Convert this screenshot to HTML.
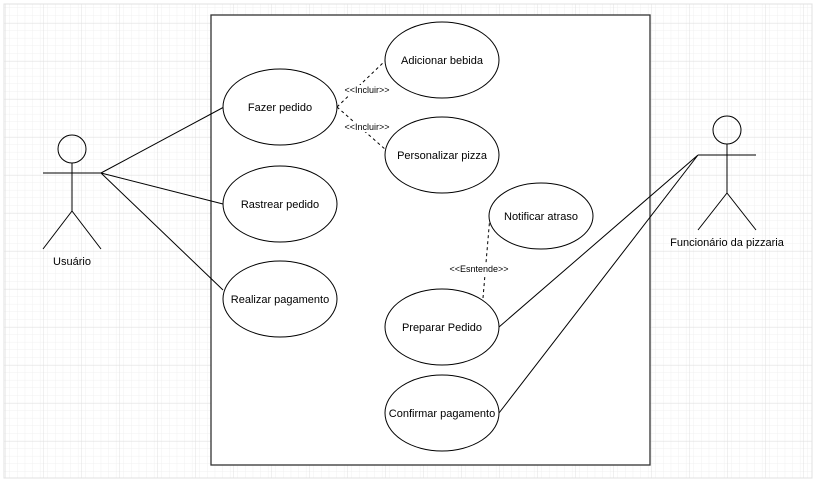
<!DOCTYPE html>
<html><head><meta charset="utf-8"><style>
body{margin:0;width:817px;height:480px;overflow:hidden;background:#fff}
</style></head><body>
<svg width="817" height="480" xmlns="http://www.w3.org/2000/svg" font-family="Liberation Sans, sans-serif">
<defs>
<pattern id="mi" x="5" y="-15" width="7.6" height="7.6" patternUnits="userSpaceOnUse"><path d="M7.6 0V7.6M0 7.6H7.6" stroke="#f0f0f0" stroke-width="1" fill="none"/></pattern>
<pattern id="ma" x="5" y="-15" width="38" height="38" patternUnits="userSpaceOnUse"><rect width="38" height="38" fill="url(#mi)"/><path d="M0 0V38M0 0H38" stroke="#e0e0e0" stroke-width="1" fill="none"/></pattern>
</defs>
<rect x="4" y="4" width="808" height="474" fill="url(#ma)" stroke="#e0e0e0"/>
<rect x="211" y="15" width="439" height="450" fill="#fff" stroke="#333" stroke-width="1.3"/>
<g stroke="#000" fill="none" stroke-width="1">
<circle cx="72" cy="149" r="14"/><path d="M72 163V211M43 173H101M72 211L43 249M72 211L101 249"/>
<circle cx="727" cy="130" r="14"/><path d="M727 144V193M698 155H756M727 193L698 230M727 193L756 230"/>
<path d="M101 173L224 107M101 173L223 204M101 173L223 290M698 155L499 327M698 155L499 413"/>
<path d="M337 107L386 60M337 107L386 150M483 298L490 216" stroke-dasharray="3,3"/>
<g fill="#fff">
<ellipse cx="280" cy="107" rx="57" ry="38"/><ellipse cx="280" cy="204" rx="57" ry="38"/><ellipse cx="280" cy="299" rx="57" ry="38"/>
<ellipse cx="442" cy="60" rx="57" ry="38"/><ellipse cx="442" cy="155" rx="57" ry="38"/><ellipse cx="541" cy="216" rx="52" ry="33"/>
<ellipse cx="442" cy="327" rx="57" ry="38"/><ellipse cx="442" cy="413" rx="57" ry="38"/>
</g></g>
<g font-size="11" text-anchor="middle" fill="#000">
<text x="280" y="111">Fazer pedido</text><text x="280" y="208">Rastrear pedido</text><text x="280" y="303">Realizar pagamento</text>
<text x="442" y="64">Adicionar bebida</text><text x="442" y="159">Personalizar pizza</text><text x="541" y="220">Notificar atraso</text>
<text x="442" y="331">Preparar Pedido</text><text x="442" y="417">Confirmar pagamento</text>
<text x="72" y="265">Usuário</text><text x="727" y="246">Funcionário da pizzaria</text>
</g>
<g font-size="9" text-anchor="middle" fill="#000">
<rect x="342" y="85" width="52" height="10" fill="#fff"/><text x="367" y="93">&lt;&lt;Incluir&gt;&gt;</text>
<rect x="342" y="122" width="52" height="10" fill="#fff"/><text x="367" y="130">&lt;&lt;Incluir&gt;&gt;</text>
<rect x="446" y="264" width="66" height="10" fill="#fff"/><text x="479" y="272">&lt;&lt;Esntende&gt;&gt;</text>
</g>
</svg>
</body></html>
